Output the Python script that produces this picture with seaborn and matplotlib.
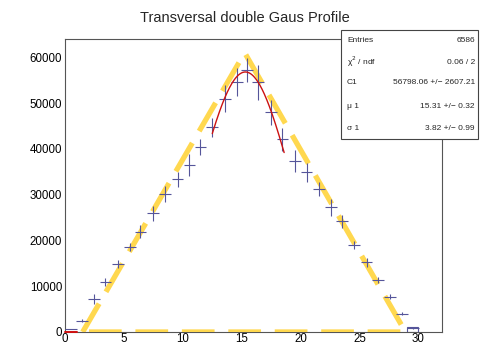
import numpy as np
import pandas as pd
import matplotlib
matplotlib.use("Agg")
import matplotlib.pyplot as plt
import seaborn as sns
from matplotlib.patches import Rectangle
from matplotlib.ticker import MultipleLocator

# Profile points: position, mean value, errors
x_pos = [0.5, 1.44, 2.49, 3.43, 4.5, 5.5, 6.4, 7.5, 8.5, 9.55,
         10.56, 11.5, 12.5, 13.6, 14.6, 15.44, 16.4, 17.5, 18.46, 19.5,
         20.5, 21.55, 22.55, 23.5, 24.5, 25.6, 26.6, 27.6, 28.6, 29.55]
y_val = [600, 2500, 7300, 10900, 14800, 18600, 21900, 25900, 30100, 33400,
         36460, 40460, 44700, 51000, 54650, 57200, 54500, 47970, 42100, 37400,
         34850, 31250, 27230, 24200, 19000, 15250, 11350, 7650, 3950, 900]
y_err = [0, 400, 1100, 800, 900, 900, 1450, 1640, 1800, 1640,
         2360, 1700, 2000, 2900, 3100, 2700, 3800, 2700, 2550, 2360,
         2000, 1450, 1800, 1450, 900, 980, 730, 550, 330, 200]
x_err = [0.5] * len(x_pos)

# Gaussian fit result
fit_C1, fit_mu, fit_sigma = 56798.06, 15.31, 3.82
fit_range = [12.5, 18.6]

# Triangle outline (closed)
tri_x = [1.5, 15.25, 28.9, 1.5]
tri_y = [0, 61000, 0, 0]

# Stats box entries
stat_names = ["Entries", "\u03c7$^{2}$ / ndf", "C1", "\u03bc 1", "\u03c3 1"]
stat_vals = ["6586", "0.06 / 2", "56798.06 +/\u2212 2607.21",
             "15.31 +/\u2212 0.32", "3.82 +/\u2212 0.99"]

x_ticks = [0, 5, 10, 15, 20, 25, 30]
y_ticks = [0, 10000, 20000, 30000, 40000, 50000, 60000]

sns.set_style("white")
plt.rcParams["font.family"] = ["Liberation Sans", "DejaVu Sans"]

fig = plt.figure(figsize=(4.81, 3.45), dpi=100)
ax = fig.add_axes([65 / 481, 13 / 345, (442 - 65) / 481, (332 - 39) / 345])

navy = "#55559a"
gold = "#FFD84F"

# triangle as thick dashed line
tri = pd.DataFrame({"x": tri_x, "y": tri_y})
sns.lineplot(data=tri, x="x", y="y", sort=False, estimator=None, ax=ax,
             color=gold, linewidth=3.8, zorder=3)
ax.lines[-1].set_dashes([6.2, 2.6])
ax.lines[-1].set_solid_capstyle("butt")
ax.lines[-1].set_dash_capstyle("butt")

# profile points with errors
ax.errorbar(x_pos, y_val, xerr=x_err, yerr=y_err, fmt="none",
            ecolor=navy, elinewidth=0.8, capsize=0, zorder=4)

# edge bin outlines
ax.add_patch(Rectangle((29.0, 0), 1.0, 1200, fill=False, edgecolor=navy,
                       linewidth=0.8, zorder=4))
ax.plot([0, 1], [0, 0], color="#d01010", linewidth=1.4, zorder=5,
        clip_on=False)

# Gaussian fit curve
xf = np.linspace(fit_range[0], fit_range[1], 200)
fit = pd.DataFrame({"x": xf,
                    "y": fit_C1 * np.exp(-0.5 * ((xf - fit_mu) / fit_sigma) ** 2)})
sns.lineplot(data=fit, x="x", y="y", ax=ax, color="#cc1111", linewidth=1.0,
             zorder=5)

ax.set_xlim(0, 32)
ax.set_ylim(0, 64000)
ax.set_xlabel("")
ax.set_ylabel("")
ax.set_xticks(x_ticks)
ax.set_yticks(y_ticks)
ax.set_xticklabels([str(t) for t in x_ticks])
ax.set_yticklabels([str(t) for t in y_ticks])
ax.xaxis.set_minor_locator(MultipleLocator(1))
ax.yaxis.set_minor_locator(MultipleLocator(2000))
ax.tick_params(axis="both", which="both", direction="in", colors="#555555",
               labelcolor="black", labelsize=8.3, width=0.8,
               top=False, right=False)
ax.tick_params(axis="y", which="major", length=10, pad=2)
ax.tick_params(axis="y", which="minor", length=5)
ax.tick_params(axis="x", which="major", length=8, pad=1)
ax.tick_params(axis="x", which="minor", length=4)
for s in ax.spines.values():
    s.set_color("#555555")
    s.set_linewidth(0.8)

# title
fig.text(245 / 481, 1 - 18 / 345, "Transversal double Gaus Profile",
         ha="center", va="center", fontsize=10.5)

# stats box
bx0, bx1, by0, by1 = 341, 478, 30, 139
box = Rectangle((bx0 / 481, 1 - by1 / 345), (bx1 - bx0) / 481, (by1 - by0) / 345,
                transform=fig.transFigure, facecolor="white", edgecolor="#444444",
                linewidth=0.8, zorder=10)
fig.add_artist(box)
row_y = [40, 62, 83, 106, 128]
for ry, nm, vl in zip(row_y, stat_names, stat_vals):
    fig.text(347 / 481, 1 - ry / 345, nm, ha="left", va="center",
             fontsize=6.0, zorder=11)
    fig.text(475 / 481, 1 - ry / 345, vl, ha="right", va="center",
             fontsize=6.0, zorder=11)

fig.savefig("out.png", dpi=100)
